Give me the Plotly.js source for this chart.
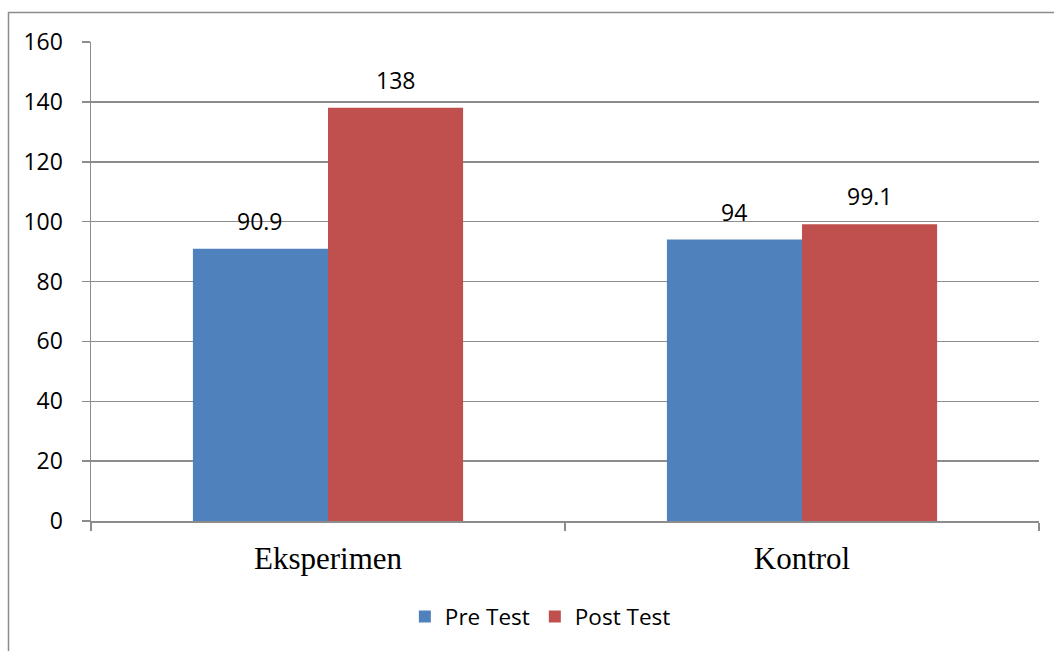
<!DOCTYPE html>
<html>
<head>
<meta charset="utf-8">
<script src="https://cdn.plot.ly/plotly-3.0.1.min.js"></script>
<style>html,body{margin:0;padding:0;background:#fff;}#chart{width:1054px;height:651px;}</style>
</head>
<body>
<div id="chart"></div>
<script>
const categories = ["Eksperimen", "Kontrol"];
const seriesNames = ["Pre Test", "Post Test"];
const preTest = [90.9, 94];
const postTest = [138, 99.1];
const yTicks = [0, 20, 40, 60, 80, 100, 120, 140, 160];

const colors = ["#4F81BD", "#C0504D"];
const lineGray = "#8c8c8c";
const sansFont = "Open Sans, Noto Sans, sans-serif";

const W = 1054, H = 651;
const margin = {l: 91, r: 15, t: 42, b: 130};
const bargap = 0.43;

const plotW = W - margin.l - margin.r;
const catW = plotW / categories.length;
const barW = catW * (1 - bargap) / 2;

const data = [preTest, postTest].map((vals, i) => ({
  type: "bar",
  name: seriesNames[i],
  x: categories,
  y: vals,
  marker: {color: colors[i]},
  hoverinfo: "none"
}));

const annotations = [];
[preTest, postTest].forEach((vals, i) => {
  vals.forEach((v, j) => {
    annotations.push({
      x: categories[j], y: v, xref: "x", yref: "y",
      text: String(v), showarrow: false,
      xshift: (i === 0 ? -1 : 1) * barW / 2,
      yanchor: "bottom", yshift: 10,
      font: {family: sansFont, size: 23, color: "#000"}
    });
  });
});

const layout = {
  width: W, height: H,
  margin: margin,
  paper_bgcolor: "#fff",
  plot_bgcolor: "#fff",
  barmode: "group",
  bargap: bargap,
  bargroupgap: 0,
  showlegend: true,
  legend: {
    orientation: "h",
    x: 0.474, xanchor: "center",
    y: -0.2, yanchor: "middle",
    font: {family: sansFont, size: 22.5, color: "#000"},
    itemclick: false
  },
  xaxis: {
    type: "category",
    showgrid: false,
    showline: true, linecolor: lineGray, linewidth: 1.5,
    ticks: "outside", tickson: "boundaries", ticklen: 8, tickcolor: lineGray, tickwidth: 1.5,
    tickfont: {family: "Liberation Serif, Times New Roman, serif", size: 31, color: "#000"},
    ticklabelstandoff: 9,
    zeroline: false,
    fixedrange: true
  },
  yaxis: {
    range: [0, 160],
    tickvals: yTicks,
    ticktext: yTicks.map(String),
    showgrid: true, gridcolor: lineGray, gridwidth: 1.5,
    showline: true, linecolor: lineGray, linewidth: 1.5,
    ticks: "outside", ticklen: 8, tickcolor: lineGray, tickwidth: 1.5,
    tickfont: {family: sansFont, size: 23, color: "#000"},
    ticklabelstandoff: 14,
    zeroline: false,
    fixedrange: true
  },
  annotations: annotations,
  shapes: [{
    type: "rect", xref: "paper", yref: "paper",
    x0: (8.5 - margin.l) / plotW,
    x1: 1.1,
    y0: -0.4,
    y1: (H - margin.b - 12.5) / (H - margin.t - margin.b),
    line: {color: lineGray, width: 1.5},
    fillcolor: "rgba(0,0,0,0)",
    layer: "below"
  }]
};

Plotly.newPlot("chart", data, layout, {displayModeBar: false, staticPlot: true});
</script>
</body>
</html>
